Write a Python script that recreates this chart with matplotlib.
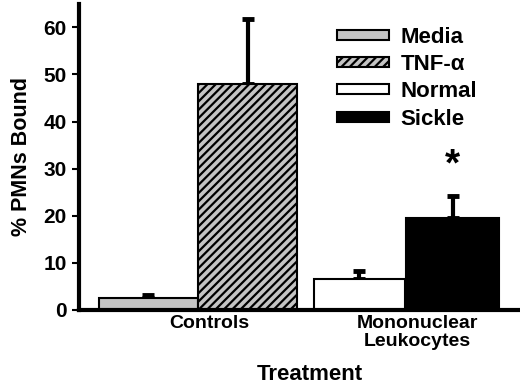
import numpy as np
import matplotlib
matplotlib.use("Agg")
import matplotlib.pyplot as plt
from matplotlib.patches import Patch

groups = ["Controls", "Mononuclear\nLeukocytes"]
series = ["Media", "TNF-α", "Normal", "Sickle"]
values = [2.5, 48.0, 6.5, 19.5]
errors = [0.6, 13.8, 1.8, 4.6]
group_of = [0, 0, 1, 1]
offset = [-0.24, 0.24, -0.22, 0.23]
widths = [0.48, 0.48, 0.44, 0.45]
fills = ["#c4c4c4", "#c4c4c4", "white", "black"]
hatches = ["", "////", "", ""]

plt.rcParams['font.family'] = ['Liberation Sans', 'DejaVu Sans']
plt.rcParams['font.weight'] = 'bold'
plt.rcParams['hatch.color'] = '#333333'
plt.rcParams['hatch.linewidth'] = 1.6

fig = plt.figure(figsize=(5.2, 3.84), dpi=100)
ax = fig.add_axes([0.152, 0.193, 0.844, 0.797])

for i in range(len(series)):
    x = group_of[i] + offset[i]
    ax.bar(x, values[i], width=widths[i], color=fills[i], edgecolor='black',
           linewidth=1.5, hatch=hatches[i], zorder=2)
    ax.errorbar(x, values[i], yerr=[[0], [errors[i]]], fmt='none', ecolor='black',
                elinewidth=3, capsize=4, capthick=3.5, zorder=1)

# significance star above sickle bar
ax.text(group_of[3] + offset[3], values[3] + errors[3] + 6.5, "*", ha='center', va='center',
        fontsize=28, fontweight='bold')

ax.set_xlim(-0.575, 1.546)
ax.set_ylim(0, 65)
ax.set_yticks([0, 10, 20, 30, 40, 50, 60])
ax.set_xticks([0.055, 1.06])
ax.set_xticklabels(groups, fontsize=14, fontweight='bold', linespacing=1.05)
ax.tick_params(axis='x', length=0, pad=4)
ax.tick_params(axis='y', labelsize=15, width=1.5, length=5, direction='out', pad=4)
for lbl in ax.get_yticklabels():
    lbl.set_fontweight('bold')
ax.spines['top'].set_visible(False)
ax.spines['right'].set_visible(False)
ax.spines['left'].set_linewidth(3)
ax.spines['bottom'].set_linewidth(3)

ax.set_ylabel("% PMNs Bound", fontsize=15.5, fontweight='bold')
ax.yaxis.set_label_coords(-0.108, 0.5)
ax.set_xlabel("Treatment", fontsize=16, fontweight='bold')
ax.xaxis.set_label_coords(0.526, -0.176)

handles = [Patch(facecolor=fills[i], edgecolor='black', hatch=hatches[i], linewidth=1.5)
           for i in range(len(series))]
leg = ax.legend(handles, series, loc='upper left', bbox_to_anchor=(337 / 520, 1 - 27 / 384),
                bbox_transform=fig.transFigure, frameon=False, fontsize=16,
                handlelength=2.35, handleheight=0.32, labelspacing=0.28,
                handletextpad=0.5, borderpad=0, borderaxespad=0)
for t in leg.get_texts():
    t.set_fontweight('bold')

fig.savefig("out.png", dpi=100)
